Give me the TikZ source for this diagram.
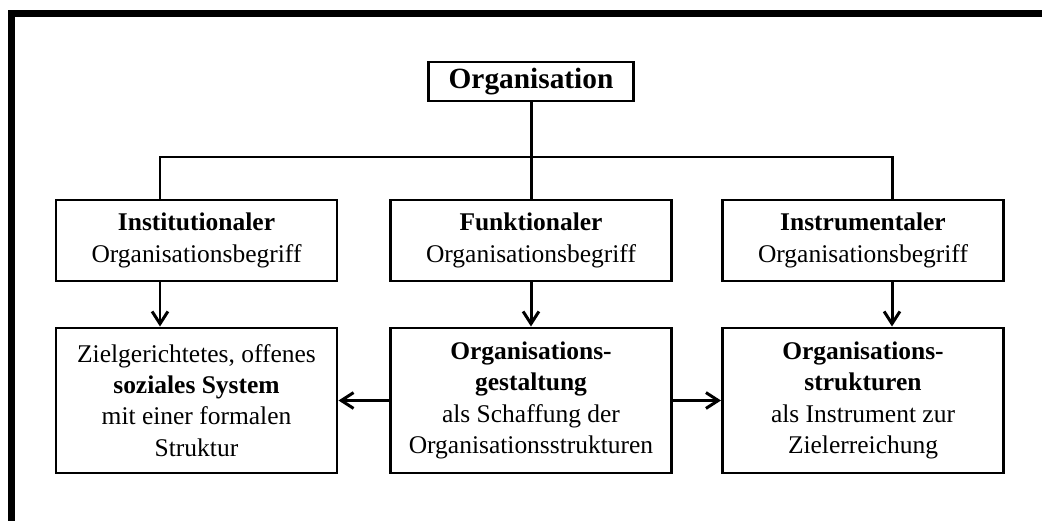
\documentclass[tikz,border=0pt]{standalone}
\usepackage{fontspec}
\setmainfont{Liberation Serif}
\usepackage{tikz}
\usetikzlibrary{arrows.meta,positioning,calc}

\begin{document}
\begin{tikzpicture}[line width=1.7pt,
  every node/.style={font=\fontsize{14.5}{17.8}\selectfont,align=center,inner sep=2pt},
  box/.style={draw,line width=1.7pt,minimum width=5.62cm},
  topbox/.style={box,minimum height=1.62cm},
  lowbox/.style={box,minimum height=2.9cm},
  arr/.style={-{Straight Barb[length=7pt,width=9pt,line width=1.7pt]}}]
\useasboundingbox (0,0) rectangle (20.84,-10.42);
% frame
\draw[line width=0.14cm,miter limit=4] (0.23,-10.42)--(0.23,-0.27)--(20.84,-0.27);
% boxes
\node[draw,line width=1.7pt,minimum width=4.1cm,minimum height=0.78cm,
  font=\fontsize{16.7}{20}\selectfont\bfseries] (org) at (10.62,-1.63) {Organisation};
\node[topbox] (inst) at (3.93,-4.81) {\textbf{Institutionaler}\\Organisationsbegriff};
\node[topbox] (funk) at (10.62,-4.81) {\textbf{Funktionaler}\\Organisationsbegriff};
\node[topbox] (instr) at (17.26,-4.81) {\textbf{Instrumentaler}\\Organisationsbegriff};
\node[lowbox] (sys) at (3.93,-8.01) {Zielgerichtetes, offenes\\\textbf{soziales System}\\mit einer formalen\\Struktur};
\node[lowbox] (gest) at (10.62,-8.01) {\textbf{Organisations-}\\\textbf{gestaltung}\\als Schaffung der\\Organisationsstrukturen};
\node[lowbox] (struk) at (17.26,-8.01) {\textbf{Organisations-}\\\textbf{strukturen}\\als Instrument zur\\Zielerreichung};
% connectors
\coordinate (jl) at (3.2,-3.14);\coordinate (jr) at (17.84,-3.14);
\draw (org)--(funk);
\draw (jl|-inst.north)--(jl)--(jr)--(jr|-instr.north);
\draw[arr] (jl|-inst.south)--(jl|-sys.north);
\draw[arr] (funk)--(gest);
\draw[arr] (jr|-instr.south)--(jr|-struk.north);
\draw[arr] (gest.west)--(sys.east);
\draw[arr] (gest.east)--(struk.west);
\end{tikzpicture}
\end{document}
